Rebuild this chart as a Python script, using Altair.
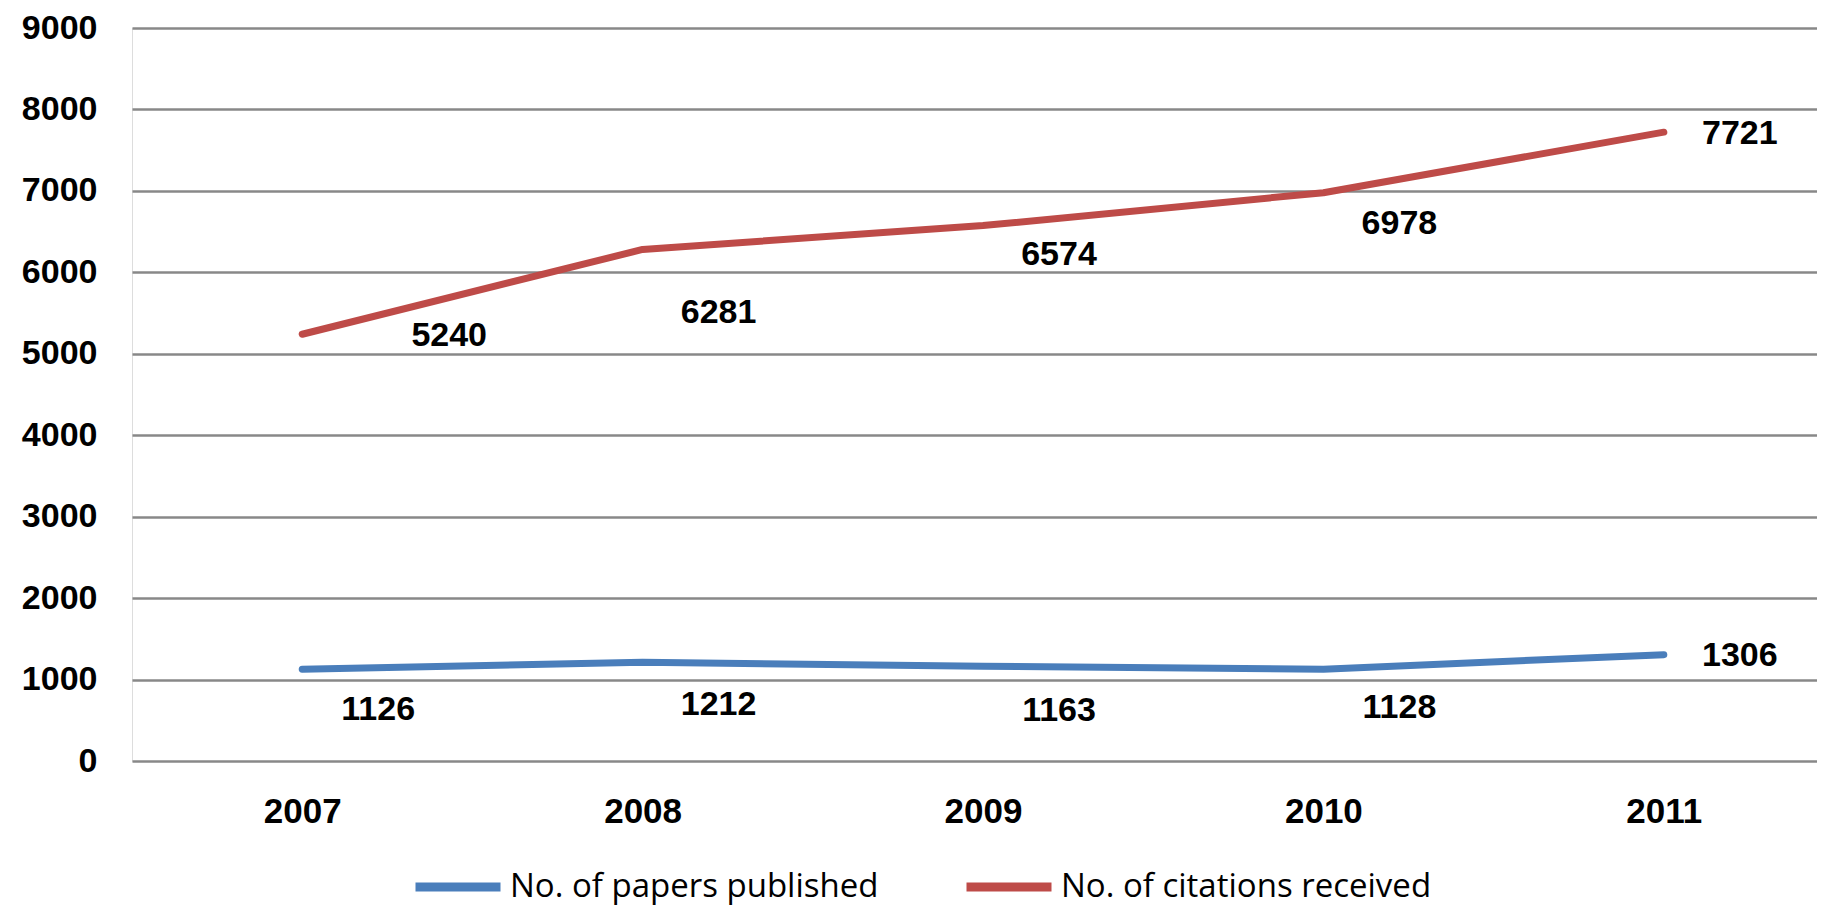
import altair as alt
import pandas as pd

years = [2007, 2008, 2009, 2010, 2011]
papers = [1126, 1212, 1163, 1128, 1306]
citations = [5240, 6281, 6574, 6978, 7721]
# vertical placement of the value labels (in data units)
papers_label_y = [630, 683, 612, 655, 1286]
citations_label_y = [5216, 5500, 6213, 6598, 7695]

series_names = ["No. of papers published", "No. of citations received"]
series_colors = ["#4a7ebb", "#be4b48"]

rows = []
for i, yr in enumerate(years):
    rows.append({"year": yr, "series": series_names[0], "value": papers[i],
                 "label_y": papers_label_y[i], "label": str(papers[i])})
for i, yr in enumerate(years):
    rows.append({"year": yr, "series": series_names[1], "value": citations[i],
                 "label_y": citations_label_y[i], "label": str(citations[i])})
df = pd.DataFrame(rows)

FONT = "Liberation Sans"

x_scale = alt.Scale(domain=[2006.5, 2011.45], nice=False, zero=False)

x_enc = alt.X(
    "year:Q",
    scale=x_scale,
    axis=alt.Axis(title=None, domain=False, ticks=False, labelAngle=0, values=years,
                  format="d", labelFontSize=35, labelFontWeight="bold", labelFont=FONT,
                  labelColor="#000000", labelPadding=33, grid=False, labelFlush=False),
)

y_scale = alt.Scale(domain=[0, 9000], nice=False)

line = alt.Chart(df).mark_line(strokeWidth=7, strokeCap="round", strokeJoin="round").encode(
    x=x_enc,
    y=alt.Y("value:Q", scale=y_scale,
            axis=alt.Axis(title=None, values=list(range(0, 9001, 1000)), format="d",
                          domain=False, ticks=False, grid=True, gridColor="#888888",
                          gridWidth=2.5, labelFontSize=34, labelFontWeight="bold",
                          labelFont=FONT, labelColor="#000000", labelPadding=35,
                          labelFlush=False)),
    color=alt.Color("series:N",
                    scale=alt.Scale(domain=series_names, range=series_colors),
                    legend=alt.Legend(title=None, orient="none", legendX=279, legendY=812,
                                      direction="horizontal", symbolType="stroke",
                                      symbolSize=7225, symbolStrokeWidth=9,
                                      labelFontSize=33, labelFont="Open Sans",
                                      labelColor="#000000", labelOffset=5,
                                      columnPadding=69, labelLimit=0)),
)

is_first_cit = f"datum.series == '{series_names[1]}' && datum.year == {years[0]}"

labels = alt.Chart(df).mark_text(
    fontSize=34, fontWeight="bold", font=FONT, color="#000000",
    align="center", baseline="middle", dx=76,
).encode(x=alt.X("year:Q", scale=x_scale), y=alt.Y("label_y:Q", scale=y_scale),
         text="label:N"
).transform_filter("!(" + is_first_cit + ")")

label_first = alt.Chart(df).mark_text(
    fontSize=34, fontWeight="bold", font=FONT, color="#000000",
    align="center", baseline="middle", dx=147,
).encode(x=alt.X("year:Q", scale=x_scale), y=alt.Y("label_y:Q", scale=y_scale),
         text="label:N"
).transform_filter(is_first_cit)

chart = alt.layer(line, labels, label_first).properties(
    width=1685, height=733,
    autosize=alt.AutoSizeParams(type="none"),
    padding={"left": 124, "top": 20, "right": 0, "bottom": 148},
).configure_view(stroke=None, fill="#f2f2f2").configure(background="#ffffff")

chart.save("out.html", embed_options={"renderer": "svg", "actions": False})
